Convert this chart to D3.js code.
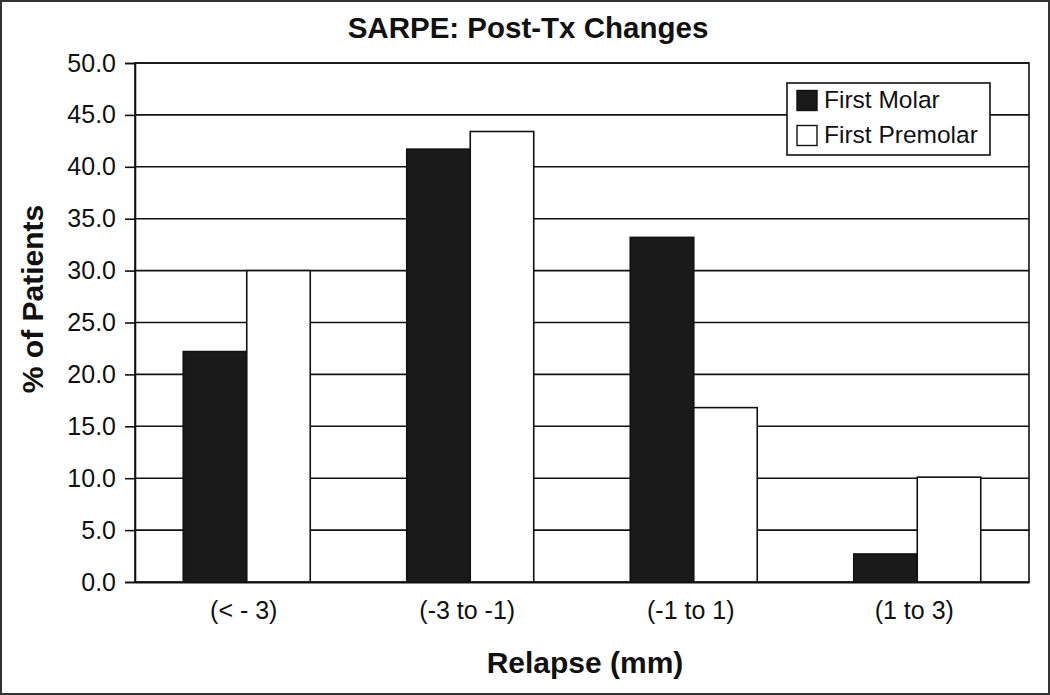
<!DOCTYPE html>
<html lang="en">
<head>
<meta charset="utf-8">
<title>SARPE: Post-Tx Changes</title>
<script src="https://cdn.jsdelivr.net/npm/d3@7"></script>
<style>
  body { margin: 0; background: #fff; }
  svg { display: block; font-family: "Liberation Sans", Arial, sans-serif; }
</style>
</head>
<body>
<div id="chart"></div>
<script>
var categories = ["(< - 3)", "(-3 to -1)", "(-1 to 1)", "(1 to 3)"]
var seriesNames = ["First Molar", "First Premolar"]
var firstMolar = [22.2, 41.7, 33.2, 2.7]
var firstPremolar = [30.0, 43.4, 16.8, 10.1]
var yTicks = [0, 5, 10, 15, 20, 25, 30, 35, 40, 45, 50]

var width = 1050, height = 695
var margin = {top: 63, right: 21, bottom: 113, left: 135}
var font = "Liberation Sans, Arial, sans-serif"

var svg = d3.select("#chart").append("svg").attr("width", width).attr("height", height)

// outer frame
svg.append("rect").attr("x", 1).attr("y", 1).attr("width", width - 2).attr("height", height - 2)
  .attr("fill", "#fff").attr("stroke", "#333").attr("stroke-width", 2)

var x = d3.scaleBand().domain(categories).range([margin.left, width - margin.right])
var xs = d3.scaleBand().domain(seriesNames).range([0, x.bandwidth()]).paddingInner(0).paddingOuter(0.76)
var y = d3.scaleLinear().domain([0, 50]).range([height - margin.bottom, margin.top])

// gridlines
svg.append("g").selectAll("line").data(yTicks.slice(1)).enter().append("line")
  .attr("x1", margin.left).attr("x2", width - margin.right)
  .attr("y1", function(d){ return y(d) }).attr("y2", function(d){ return y(d) })
  .attr("stroke", "#111").attr("stroke-width", 1.6)

// plot frame
svg.append("rect").attr("x", margin.left).attr("y", margin.top)
  .attr("width", width - margin.right - margin.left).attr("height", y(0) - margin.top)
  .attr("fill", "none").attr("stroke", "#111").attr("stroke-width", 1.6)

var rows = categories.map(function(c, i){
  return [{cat: c, s: seriesNames[0], v: firstMolar[i]}, {cat: c, s: seriesNames[1], v: firstPremolar[i]}]
})

svg.append("g").selectAll("g").data(rows).enter().append("g")
  .attr("transform", function(d){ return "translate(" + x(d[0].cat) + ",0)" })
  .selectAll("rect").data(function(d){ return d }).enter().append("rect")
  .attr("x", function(d){ return xs(d.s) })
  .attr("y", function(d){ return y(d.v) })
  .attr("width", xs.bandwidth())
  .attr("height", function(d){ return y(0) - y(d.v) })
  .attr("fill", function(d){ return d.s == "First Molar" ? "#1a1a1a" : "#fff" })
  .attr("stroke", "#111").attr("stroke-width", 1.6)

// y axis
var yAxis = d3.axisLeft(y).tickValues(yTicks).tickSize(10).tickPadding(9)
  .tickFormat(function(d){ return d3.format(".1f")(d) })
var gy = svg.append("g").attr("transform", "translate(" + margin.left + ",0)").call(yAxis)
gy.select(".domain").attr("stroke", "#111").attr("stroke-width", 1.6)
gy.selectAll(".tick line").attr("stroke", "#111").attr("stroke-width", 1.6)
gy.selectAll(".tick text").attr("font-size", 25).attr("fill", "#111").attr("font-family", font)

// x axis
var xAxis = d3.axisBottom(x).tickSize(0).tickPadding(0)
var gx = svg.append("g").attr("transform", "translate(0," + y(0) + ")").call(xAxis)
gx.select(".domain").attr("stroke", "#111").attr("stroke-width", 2)
gx.selectAll(".tick text").attr("font-size", 25).attr("fill", "#111").attr("font-family", font)
  .attr("dy", null).attr("y", 37).attr("dx", -3)

// titles
svg.append("text").attr("x", 528).attr("y", 38).attr("text-anchor", "middle")
  .attr("font-size", 29.5).attr("font-weight", "bold").attr("fill", "#111")
  .text("SARPE: Post-Tx Changes")
svg.append("text").attr("x", 585).attr("y", 673).attr("text-anchor", "middle")
  .attr("font-size", 30).attr("font-weight", "bold").attr("fill", "#111")
  .text("Relapse (mm)")
svg.append("text").attr("transform", "translate(43,299) rotate(-90)").attr("text-anchor", "middle")
  .attr("font-size", 30).attr("font-weight", "bold").attr("fill", "#111")
  .text("% of Patients")

// legend
var legend = svg.append("g").attr("transform", "translate(787,83)")
legend.append("rect").attr("width", 203).attr("height", 72).attr("fill", "#fff")
  .attr("stroke", "#111").attr("stroke-width", 1.6)
seriesNames.forEach(function(s, i){
  legend.append("rect").attr("x", 10).attr("y", 7.5 + i * 35).attr("width", 20).attr("height", 20)
    .attr("fill", i == 0 ? "#1a1a1a" : "#fff").attr("stroke", "#111").attr("stroke-width", 1.4)
  legend.append("text").attr("x", 37).attr("y", 25 + i * 35).attr("font-size", 24.5).attr("fill", "#111").text(s)
})
</script>
</body>
</html>
